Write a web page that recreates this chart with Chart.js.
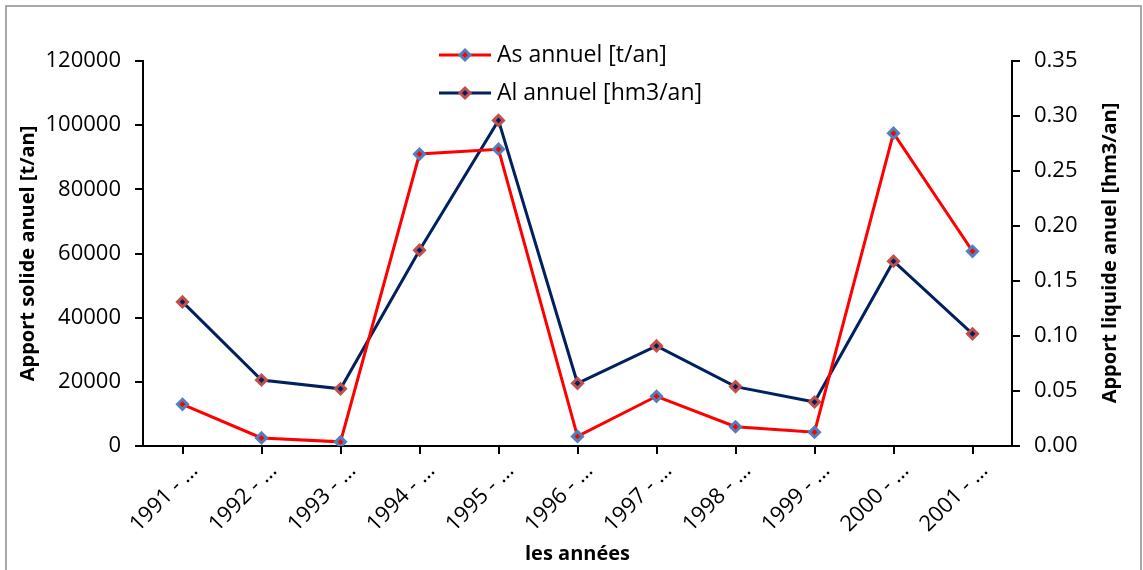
<!DOCTYPE html>
<html>
<head>
<meta charset="utf-8">
<script src="https://cdn.jsdelivr.net/npm/chart.js@4/dist/chart.umd.min.js"></script>
<style>
  html, body { margin: 0; padding: 0; background: #fff; }
  #wrap { width: 1143px; height: 570px; position: relative; }
</style>
</head>
<body>
<div id="wrap"><canvas id="chart" width="1143" height="570"></canvas></div>
<script>
// data
const years = ['1991 - …', '1992 - …', '1993 - …', '1994 - …', '1995 - …', '1996 - …',
               '1997 - …', '1998 - …', '1999 - …', '2000 - …', '2001 - …'];
const asAnnuel = [13000, 2500, 1300, 91000, 92500, 3000, 15500, 6000, 4300, 97500, 60700];
const alAnnuel = [0.131, 0.060, 0.052, 0.178, 0.296, 0.057, 0.091, 0.054, 0.040, 0.168, 0.102];
const leftTicks = [0, 20000, 40000, 60000, 80000, 100000, 120000];
const rightTicks = [0, 0.05, 0.10, 0.15, 0.20, 0.25, 0.30, 0.35];

const FONT = "'Open Sans', 'Noto Sans', sans-serif";

// frame + custom legend + right title
const extras = {
    id: 'extras',
    beforeDraw(chart) {
        const c = chart.ctx;
        c.save();
        c.strokeStyle = '#8c8c8c';
        c.lineWidth = 1.5;
        c.strokeRect(6, 6, 1135, 570);
        c.restore();
    },
    afterDraw(chart) {
        const c = chart.ctx;
        c.save();
        // legend
        chart.data.datasets.forEach((ds, i) => {
            const y = 55 + i * 38;
            c.strokeStyle = ds.borderColor;
            c.lineWidth = 3;
            c.beginPath();
            c.moveTo(439, y);
            c.lineTo(491, y);
            c.stroke();
            c.beginPath();
            c.moveTo(465, y - 5); c.lineTo(470, y); c.lineTo(465, y + 5); c.lineTo(460, y);
            c.closePath();
            c.fillStyle = ds.pointBackgroundColor;
            c.fill();
            c.strokeStyle = ds.pointBorderColor;
            c.lineWidth = 3;
            c.stroke();
            c.fillStyle = '#000';
            c.font = '23px ' + FONT;
            c.textAlign = 'left';
            c.textBaseline = 'middle';
            c.fillText(ds.label, 497, y);
        });
        // right axis title, reading bottom to top
        c.translate(1110, 253);
        c.rotate(-Math.PI / 2);
        c.font = 'bold 20px ' + FONT;
        c.textAlign = 'center';
        c.textBaseline = 'middle';
        c.fillStyle = '#000';
        c.fillText('Apport liquide anuel [hm3/an]', 0, 0);
        c.restore();
    }
};

const ctx = document.getElementById('chart').getContext('2d');
const chart = new Chart(ctx, {
    type: 'line',
    data: {
        labels: years,
        datasets: [{
            label: 'As annuel [t/an]',
            data: asAnnuel,
            yAxisID: 'y',
            borderColor: '#ff0000',
            borderWidth: 3,
            pointStyle: 'rectRot',
            pointRadius: 5,
            pointBorderWidth: 3,
            pointBorderColor: '#4f81bd',
            pointBackgroundColor: '#ff0000',
            tension: 0
        }, {
            label: 'Al annuel [hm3/an]',
            data: alAnnuel,
            yAxisID: 'y1',
            borderColor: '#002060',
            borderWidth: 3,
            pointStyle: 'rectRot',
            pointRadius: 5,
            pointBorderWidth: 3,
            pointBorderColor: '#c0504d',
            pointBackgroundColor: '#002060',
            tension: 0
        }]
    },
    options: {
        responsive: false,
        animation: false,
        layout: { padding: { left: 12, right: 0, top: 61, bottom: 0 } },
        plugins: {
            legend: { display: false },
            tooltip: { enabled: false }
        },
        scales: {
            x: {
                offset: true,
                grid: {
                    offset: false,
                    drawOnChartArea: false,
                    drawTicks: true,
                    tickLength: 8,
                    tickColor: '#000',
                    lineWidth: 2
                },
                border: { display: true, color: '#000', width: 2 },
                ticks: {
                    autoSkip: false,
                    maxRotation: 45,
                    minRotation: 45,
                    color: '#000',
                    padding: 4,
                    labelOffset: 12,
                    font: { family: FONT, size: 22 }
                },
                title: {
                    display: true,
                    text: 'les années',
                    color: '#000',
                    padding: { top: 0, bottom: 4 },
                    font: { family: FONT, size: 20, weight: 'bold' }
                },
                afterFit(scale) { scale.height = 124; }
            },
            y: {
                position: 'left',
                min: 0,
                max: 120000,
                afterBuildTicks(scale) { scale.ticks = leftTicks.map(v => ({ value: v })); },
                grid: {
                    drawOnChartArea: false,
                    tickLength: 8,
                    tickColor: '#000',
                    lineWidth: 2
                },
                border: { display: true, color: '#000', width: 2 },
                ticks: {
                    color: '#000',
                    padding: 14,
                    font: { family: FONT, size: 22 },
                    callback: v => String(v)
                },
                title: {
                    display: true,
                    text: 'Apport solide anuel [t/an]',
                    color: '#000',
                    padding: { top: 4, bottom: 0 },
                    font: { family: FONT, size: 20, weight: 'bold' }
                },
                afterFit(scale) { scale.width = 131; }
            },
            y1: {
                position: 'right',
                min: 0,
                max: 0.35,
                afterBuildTicks(scale) { scale.ticks = rightTicks.map(v => ({ value: v })); },
                grid: {
                    drawOnChartArea: false,
                    tickLength: 8,
                    tickColor: '#000',
                    lineWidth: 2
                },
                border: { display: true, color: '#000', width: 2 },
                ticks: {
                    color: '#000',
                    padding: 14,
                    font: { family: FONT, size: 22 },
                    callback: v => v.toFixed(2)
                },
                afterFit(scale) { scale.width = 131; }
            }
        }
    },
    plugins: [extras]
});
</script>
</body>
</html>
